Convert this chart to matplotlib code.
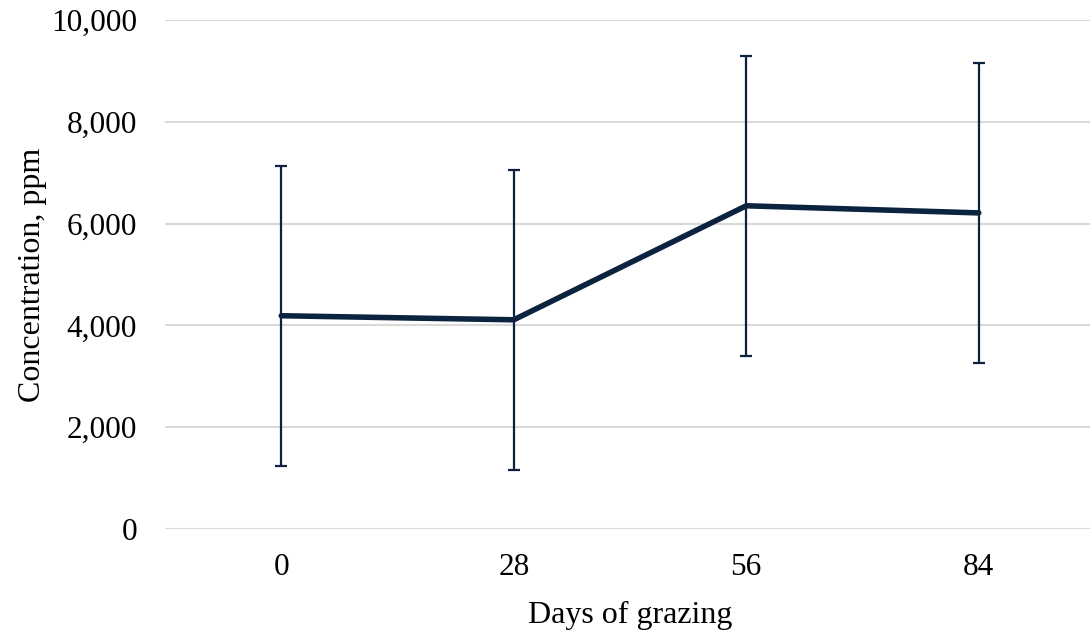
import numpy as np
import matplotlib
matplotlib.use('Agg')
import matplotlib.pyplot as plt
from matplotlib.ticker import FuncFormatter

# Mean concentration and error (ppm) by days of grazing
days = ['0', '28', '56', '84']
concentration = [4190, 4110, 6350, 6210]
error = [2950, 2950, 2950, 2950]

line_color = '#0c2340'
grid_color = '#d9d9d9'

plt.rcParams['font.family'] = ['Liberation Serif', 'DejaVu Serif']

fig = plt.figure(figsize=(10.9, 6.34), dpi=100)
ax = fig.add_axes([165 / 1090, 105 / 634, 930 / 1090, 509 / 634])

x = np.arange(len(days))
ax.errorbar(x, concentration, yerr=error, color=line_color, lw=4,
            ecolor=line_color, elinewidth=1.6, capsize=4.5, capthick=1.6,
            solid_capstyle='round', zorder=3)

ax.set_xlim(-0.5, len(days) - 0.5)
ax.set_ylim(0, 10000)
ax.set_yticks(np.arange(0, 10001, 2000))
ax.yaxis.set_major_formatter(FuncFormatter(lambda v, p: f'{int(v):,}'))
ax.set_xticks(x)
ax.set_xticklabels(days)

ax.grid(axis='y', color=grid_color, lw=1.5)
ax.set_axisbelow(True)
for s in ax.spines.values():
    s.set_visible(False)
ax.tick_params(axis='both', length=0, labelsize=22.5, colors='black')
ax.tick_params(axis='y', pad=20)
ax.tick_params(axis='x', pad=17)

ax.set_xlabel('Days of grazing', fontsize=23, labelpad=14)
ax.set_ylabel('Concentration, ppm', fontsize=23, labelpad=3)

fig.savefig('out.png', dpi=100)
